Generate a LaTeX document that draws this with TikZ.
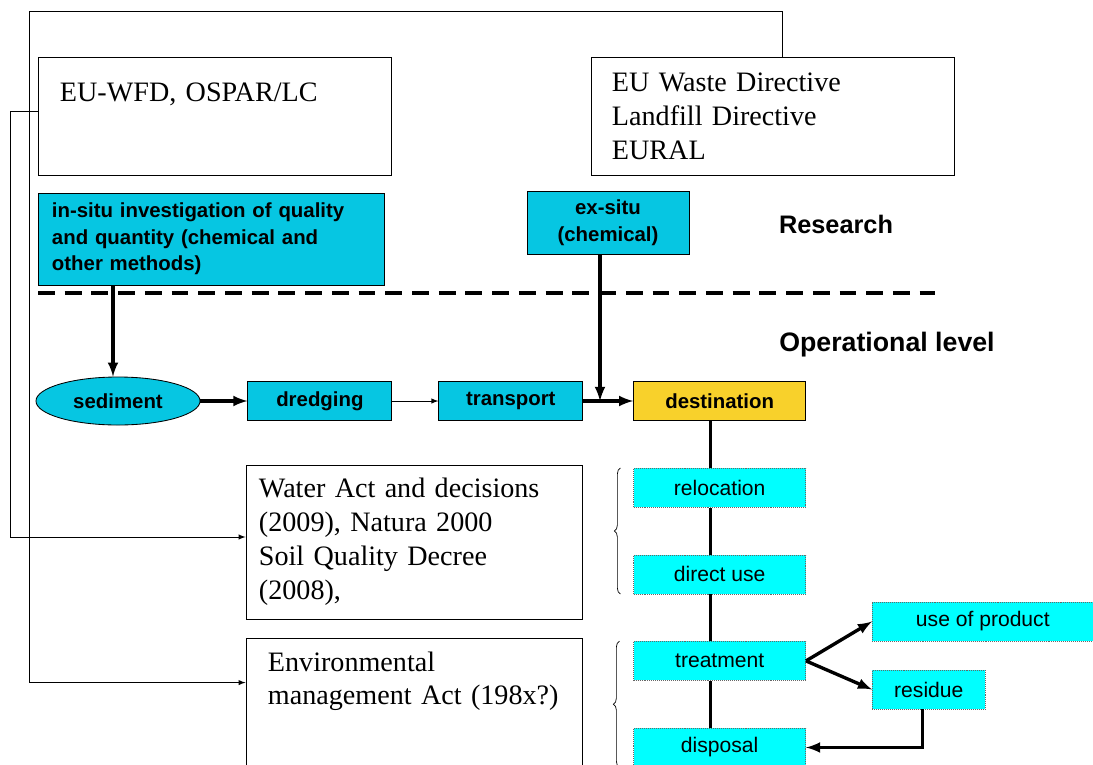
\documentclass[tikz,border=0pt]{standalone}
\usepackage{fontspec}
\setmainfont{Liberation Serif}
\setsansfont{Liberation Sans}
\usepackage{tikz}
\usetikzlibrary{shapes,arrows,positioning,decorations.pathreplacing}

\definecolor{stagecyan}{HTML}{06C6E2}
\definecolor{destgold}{HTML}{F8D12B}
\definecolor{choicecyan}{HTML}{00FFFF}

\begin{document}
\begin{tikzpicture}[x=0.025cm, y=-0.025cm, node distance=1.175cm]
        % Define styles
        \tikzstyle{lawbox} = [rectangle, draw, line width=0.6pt, font=\fontsize{20}{24.1}\selectfont, align=left]
        \tikzstyle{stage} = [rectangle, draw, line width=0.6pt, fill=stagecyan, font=\fontsize{14.5}{19}\selectfont\sffamily\bfseries, minimum height=0.975cm, inner sep=0pt]
        \tikzstyle{choice} = [rectangle, draw=black!60, densely dotted, fill=choicecyan, font=\fontsize{15}{18}\selectfont\sffamily, minimum width=4.3cm, minimum height=0.975cm, inner sep=0pt]
        \tikzstyle{heading} = [font=\fontsize{18}{22}\selectfont\sffamily\bfseries]
        \tikzstyle{arrow} = [line width=2.4pt,->,>=latex]
        \tikzstyle{link} = [line width=0.7pt,->,>=latex]

        \useasboundingbox (0,0) rectangle (1093,764);

        % Legislation
        \node [lawbox, minimum width=8.825cm, text width=7.725cm, inner xsep=0.55cm, inner ysep=0pt, text height=1.1cm, text depth=1.85cm] (eurules) at (214.5,116) {EU-WFD, OSPAR/LC};
        \node [lawbox, minimum width=9.075cm, minimum height=2.95cm, text width=8.025cm, inner xsep=0.525cm] (wastedir) at (772.5,116) {EU Waste Directive\\Landfill Directive\\EURAL};
        \node [lawbox, minimum width=8.4cm, minimum height=3.85cm, text width=7.75cm, inner xsep=0.325cm] (wateract) at (414,542) {Water Act and decisions\\(2009), Natura 2000\\Soil Quality Decree\\(2008),};
        \node [lawbox, minimum width=8.4cm, text width=7.3cm, inner xsep=0.55cm, inner ysep=0pt, text height=0.825cm, text depth=2.475cm] (envact) at (414,704) {Environmental\\management Act (198x?)};

        % Research level
        \node [stage, text width=7.95cm, inner xsep=0.35cm, minimum height=2.3cm, align=left] (insitu) at (211,239) {in-situ investigation of quality\\and quantity (chemical and\\other methods)};
        \node [stage, minimum width=4.05cm, minimum height=1.575cm, align=center] (exsitu) at (608,222.5) {ex-situ\\(chemical)};
        \node [heading] (research) at (836,224) {Research};
        \draw [line width=2.4pt, dash pattern=on 12pt off 7pt] (38,293) -- (935,293);
        \node [heading, font=\fontsize{19}{22}\selectfont\sffamily\bfseries] (operational) at (887,345) {Operational level};

        % Operational chain
        \node [stage, ellipse, minimum width=4.1cm, minimum height=1.2cm] (sediment) at (118,401) {sediment};
        \node [stage, minimum width=3.6cm, right=1.175cm of sediment] (dredging) {dredging};
        \node [stage, minimum width=3.6cm, right=1.15cm of dredging] (transport) {transport};
        \node [stage, fill=destgold, minimum width=4.3cm, right=1.25cm of transport] (destination) {destination};

        % Destinations
        \node [choice, below=of destination] (relocation) {relocation};
        \node [choice, below=of relocation] (directuse) {direct use};
        \node [choice, below=of directuse] (treatment) {treatment};
        \node [choice, below=of treatment] (disposal) {disposal};
        \node [choice, minimum width=5.525cm, anchor=west] (product) at (872,621.5) {use of product};
        \node [choice, minimum width=2.825cm, anchor=west] (residue) at (872,689.5) {residue};

        % Arrows
        \draw [arrow] ([xshift=-0.125cm]insitu.south -| sediment.north) -- ([xshift=-0.125cm]sediment.north);
        \draw [arrow] (sediment) -- (dredging);
        \draw [link] (dredging) -- (transport);
        \draw [arrow] (transport) -- (destination);
        \coordinate (merge) at ([xshift=-0.2cm]exsitu.south |- transport.east);
        \draw [arrow] ([xshift=-0.2cm]exsitu.south) -- (merge);

        \draw [line width=2.4pt] ([xshift=-0.225cm]destination.south) -- ([xshift=-0.225cm]relocation.north);
        \draw [line width=2.4pt] ([xshift=-0.225cm]relocation.south) -- ([xshift=-0.225cm]directuse.north);
        \draw [line width=2.4pt] ([xshift=-0.225cm]directuse.south) -- ([xshift=-0.225cm]treatment.north);
        \draw [line width=2.4pt] ([xshift=-0.225cm]treatment.south) -- ([xshift=-0.225cm]disposal.north);
        \draw [arrow] (treatment.east) -- (product.west);
        \draw [arrow] (treatment.east) -- (residue.west);
        \draw [arrow] ([xshift=-0.15cm]residue.south) |- (disposal.east);

        % Braces
        \draw [decorate, decoration={brace, amplitude=0.15cm}, line width=0.5pt] ([xshift=-0.325cm]directuse.south west) -- ([xshift=-0.325cm]relocation.north west);
        \draw [decorate, decoration={brace, amplitude=0.15cm}, line width=0.5pt] ([xshift=-0.35cm]disposal.south west) -- ([xshift=-0.35cm]treatment.north west);

        % Legislation links
        \coordinate (corner) at (29,11);
        \coordinate (envin) at ([yshift=-1.125cm]envact.north west);
        \draw [link] ([xshift=0.25cm]wastedir.north) |- (corner) |- (envin);
        \draw [link] ([yshift=0.125cm]eurules.west) -- ++(-27,0) |- ([yshift=0.125cm]wateract.west);
    \end{tikzpicture}
\end{document}
